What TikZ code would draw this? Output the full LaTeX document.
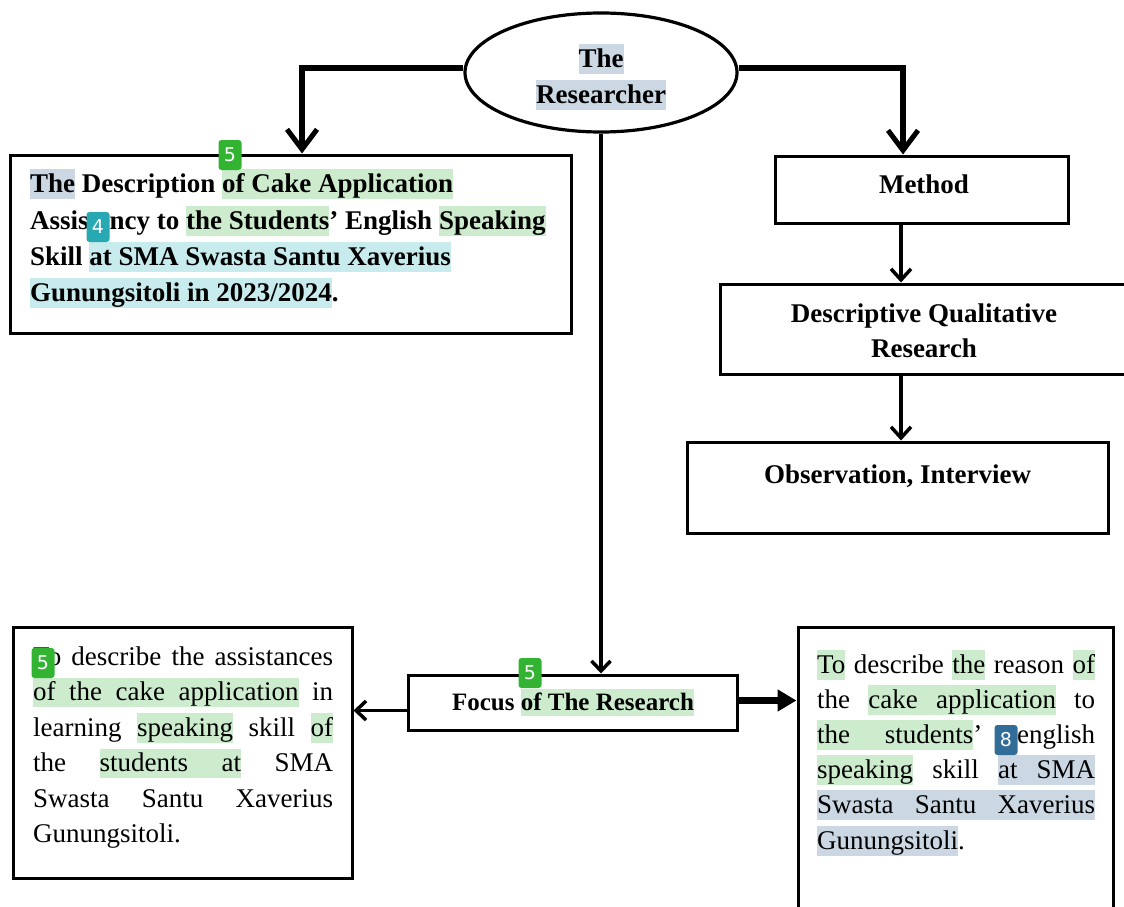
\documentclass[tikz,border=0pt]{standalone}
\usepackage{fontspec}
\setmainfont{Liberation Serif}
\newfontfamily\badgefont{DejaVu Sans}
\usetikzlibrary{shapes.geometric,arrows.meta}
\definecolor{hlgreen}{RGB}{205,236,206}
\definecolor{hlblue}{RGB}{203,216,227}
\definecolor{hlcyan}{RGB}{200,236,237}
\definecolor{bgreen}{RGB}{50,180,50}
\definecolor{bteal}{RGB}{40,168,178}
\definecolor{bblue}{RGB}{50,108,152}
\newcommand\hlstrut{\rule[-.25em]{0pt}{1.1em}}
\newcommand\HLx[2]{{\setlength{\fboxsep}{0pt}\colorbox{#1}{\hlstrut#2}}}
\newcommand\HLg[1]{\HLx{hlgreen}{#1}}
\newcommand\HLb[1]{\HLx{hlblue}{#1}}
\newcommand\HLc[1]{\HLx{hlcyan}{#1}}
\newcommand\HLsp[1]{{\color{#1}\leaders\vrule height .85em depth .25em\hskip\fontdimen2\font plus\fontdimen3\font minus\fontdimen4\font}}
\newcommand\gsp{\HLsp{hlgreen}}
\newcommand\bsp{\HLsp{hlblue}}
\newcommand\JL[1]{\makebox[300pt][s]{#1}}
\newcommand\JR[1]{\makebox[278pt][s]{#1}}
\begin{document}
\begin{tikzpicture}[x=1pt,y=-1pt,
  box/.style={draw,line width=3pt,rectangle,inner sep=0pt},
  ltxt/.style={anchor=base west,inner sep=0pt,font=\fontsize{27}{32}\selectfont},
  btxt/.style={anchor=base west,inner sep=0pt,font=\fontsize{27}{32}\selectfont\bfseries},
  ctxt/.style={anchor=base,inner sep=0pt,font=\fontsize{27}{32}\selectfont\bfseries},
  badge/.style={fill=#1,rounded corners=3pt,text=white,font=\badgefont\fontsize{19}{19}\selectfont,minimum width=23pt,minimum height=30pt,inner sep=0pt},
  bigarr/.style={line width=6.5pt,-{Straight Barb[length=20pt,width=30pt,line width=5pt]}},
  midarr/.style={line width=3.5pt,-{Straight Barb[length=11pt,width=20pt,line width=3.5pt]}},
  thinarr/.style={line width=3.5pt,-{Straight Barb[length=10pt,width=19pt,line width=3.5pt]}},
  fillarr/.style={line width=6.5pt,-{Triangle[length=19pt,width=21pt]}}]
\useasboundingbox (0,0) rectangle (1124,907);
\clip (0,0) rectangle (1124,907);
\fill[white] (0,0) rectangle (1124,907);
% shapes
\node[draw,ellipse,line width=3.2pt,minimum width=272pt,minimum height=119pt,inner sep=0pt] (ell) at (601,72.5) {};
\node[box,minimum width=561pt,minimum height=178pt] (tl) at (290.5,244) {};
\node[box,minimum width=293pt,minimum height=67pt] (method) at (921.5,189.5) {};
\node[box,minimum width=406pt,minimum height=90pt] (desc) at (923,329) {};
\node[box,minimum width=421pt,minimum height=91pt] (obs) at (897.5,487.5) {};
\node[box,minimum width=329pt,minimum height=55pt] (focus) at (572.5,702.5) {};
\node[box,minimum width=339pt,minimum height=251pt] (lbox) at (182.5,752.5) {};
\node[box,minimum width=315pt,minimum height=293pt] (rbox) at (955.5,773.5) {};
\coordinate (mx) at (901,0);
\coordinate (fl) at ([yshift=-8pt]focus.west);
\coordinate (fr) at ([yshift=2pt]focus.east);
\coordinate (el) at ([yshift=4.5pt]ell.west);
\coordinate (er) at ([yshift=4.5pt]ell.east);
% connectors
\draw[bigarr] (el) -| ([xshift=11.5pt]tl.north);
\draw[bigarr] (er) -| ([xshift=-18.5pt]method.north);
\draw[thinarr] (ell.south) -- (ell.south |- focus.north);
\draw[midarr] (method.south -| mx) -- (desc.north -| mx);
\draw[midarr] (desc.south -| mx) -- (obs.north -| mx);
\draw[thinarr] (fl) -- (lbox.east |- fl);
\draw[fillarr] (fr) -- (rbox.west |- fr);
% texts
\node[ctxt] (et1) at (601,67) {\HLb{The}};
\node[ctxt] (et2) at (601,103) {\HLb{Researcher}};
\node[btxt] (t1) at (30,192) {\HLb{The} Description \HLg{of Cake Application}};
\node[btxt] (t2) at (30,229) {Assistency to \HLg{the Students}’ English \HLg{Speaking}};
\node[btxt] (t3) at (30,265) {Skill \HLc{at SMA Swasta Santu Xaverius}};
\node[btxt] (t4) at (30,301) {\HLc{Gunungsitoli in 2023/2024}.};
\node[ctxt] (mt) at (924,193) {Method};
\node[ctxt] (dt1) at (924,322) {Descriptive Qualitative};
\node[ctxt] (dt2) at (924,357) {Research};
\node[ctxt] (ot) at (897.5,483) {Observation, Interview};
\node[ctxt,font=\fontsize{25}{30}\selectfont\bfseries] (ft) at (573,710) {Focus \HLg{of The Research}};
\node[ltxt] (l1) at (33,665) {\JL{To describe the assistances}};
\node[ltxt] (l2) at (33,700.5) {\JL{\HLg{of}\gsp\HLg{the}\gsp\HLg{cake}\gsp\HLg{application} in}};
\node[ltxt] (l3) at (33,736) {\JL{learning \HLg{speaking} skill \HLg{of}}};
\node[ltxt] (l4) at (33,771.5) {\JL{the \HLg{students}\gsp\HLg{at} SMA}};
\node[ltxt] (l5) at (33,807) {\JL{Swasta Santu Xaverius}};
\node[ltxt] (l6) at (33,842.5) {Gunungsitoli.};
\node[ltxt] (r1) at (817,673) {\JR{\HLg{To} describe \HLg{the} reason \HLg{of}}};
\node[ltxt] (r2) at (817,708) {\JR{the \HLg{cake}\gsp\HLg{application} to}};
\node[ltxt] (r3) at (817,743) {\JR{\HLg{the}\gsp\HLg{students}’ english}};
\node[ltxt] (r4) at (817,778) {\JR{\HLg{speaking} skill \HLb{at}\bsp\HLb{SMA}}};
\node[ltxt] (r5) at (817,813) {\JR{\HLb{Swasta}\bsp\HLb{Santu}\bsp\HLb{Xaverius}}};
\node[ltxt] (r6) at (817,849) {\HLb{Gunungsitoli}.};
% badges
\node[badge=bgreen] (b1) at (230,155) {5};
\node[badge=bteal] (b2) at (98,227) {4};
\node[badge=bgreen] (b3) at (43,663) {5};
\node[badge=bgreen] (b4) at (530,673) {5};
\node[badge=bblue] (b5) at (1006,740) {8};
\end{tikzpicture}
\end{document}
